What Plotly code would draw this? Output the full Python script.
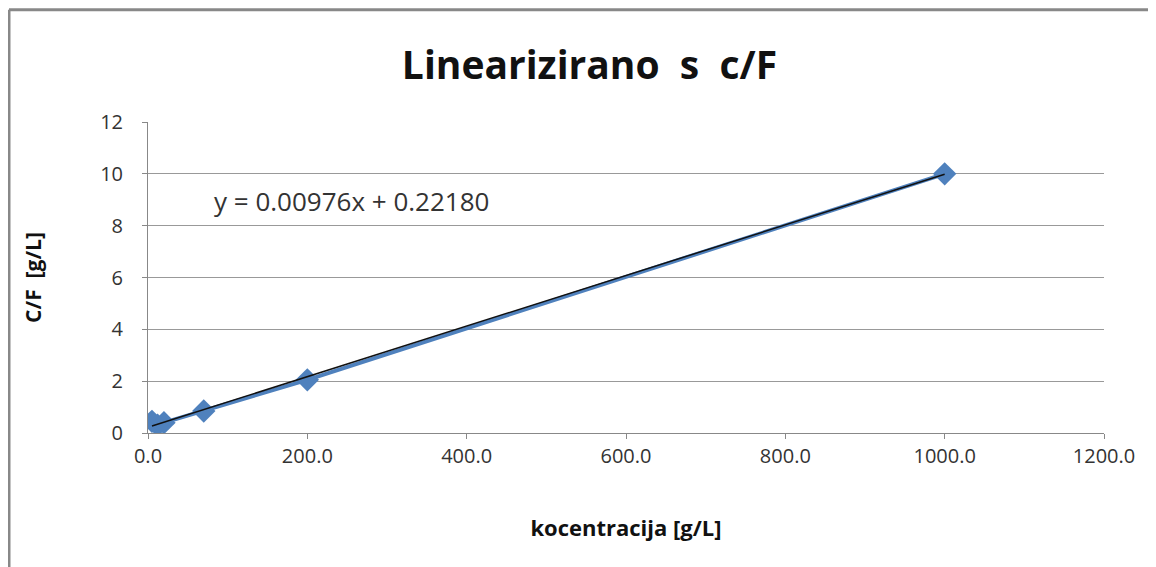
import plotly.graph_objects as go

conc = [5, 12, 20, 70, 200, 1000]
cf = [0.45, 0.30, 0.40, 0.85, 2.05, 10.0]
slope = 0.00976
intercept = 0.22180
x_ticks = [0, 200, 400, 600, 800, 1000, 1200]
y_ticks = [0, 2, 4, 6, 8, 10, 12]

fit_x = [min(conc), max(conc)]
fit_y = [slope * v + intercept for v in fit_x]

fig = go.Figure()
fig.add_trace(go.Scatter(
    x=conc, y=cf, mode="lines+markers",
    line=dict(color="#4F81BD", width=4),
    marker=dict(symbol="diamond", size=18, color="#4F81BD"),
    showlegend=False,
))
fig.add_trace(go.Scatter(
    x=fit_x, y=fit_y, mode="lines",
    line=dict(color="#111111", width=1.5),
    showlegend=False,
))

font_family = "Open Sans, Noto Sans, sans-serif"
fig.update_layout(
    width=1156, height=567,
    margin=dict(l=140, r=60, t=114, b=142),
    paper_bgcolor="white", plot_bgcolor="white",
    font=dict(family=font_family, color="#333333"),
    title=dict(text="<b>Linearizirano  s  c/F</b>", x=0.503, xanchor="center",
               y=0.899, yanchor="middle",
               font=dict(size=39, color="#111111", family=font_family)),
    xaxis=dict(range=[0, 1200], tickvals=x_ticks,
               ticktext=[f"{v:.1f}" for v in x_ticks],
               showgrid=False, zeroline=False, showline=True,
               linecolor="#888888", linewidth=1,
               ticks="outside", ticklen=5, tickcolor="#888888",
               tickfont=dict(size=20, color="#333333"),
               title=dict(text="<b>kocentracija [g/L]</b>", standoff=52,
                          font=dict(size=22, color="#111111"))),
    yaxis=dict(range=[0, 12], tickvals=y_ticks,
               showgrid=True, gridcolor="#999999", gridwidth=1,
               zeroline=False, showline=True,
               linecolor="#888888", linewidth=1,
               ticks="outside", ticklen=5, tickcolor="#888888",
               ticklabelstandoff=15,
               tickfont=dict(size=20, color="#333333"),
               title=dict(text="<b>C/F  [g/L]</b>", standoff=52,
                          font=dict(size=21, color="#111111"))),
    shapes=[
        dict(type="line", xref="paper", yref="paper",
             x0=-0.1454, x1=-0.1454, y0=-0.46, y1=1.361,
             line=dict(color="#888888", width=3)),
        dict(type="line", xref="paper", yref="paper",
             x0=-0.1454, x1=1.07, y0=1.361, y1=1.361,
             line=dict(color="#888888", width=3)),
    ],
    annotations=[
        dict(text="y = 0.00976x + 0.22180", x=256, y=8.95, xref="x", yref="y",
             showarrow=False, font=dict(size=26, color="#333333")),
    ],
)

fig.write_html("out.html")
